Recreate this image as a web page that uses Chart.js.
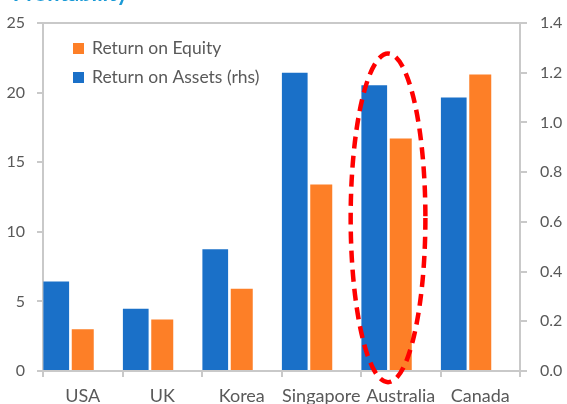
<!DOCTYPE html>
<html>
<head>
<meta charset="utf-8">
<script src="https://cdn.jsdelivr.net/npm/chart.js@4.4.0/dist/chart.umd.min.js"></script>
<style>
html, body { margin: 0; padding: 0; background: #fff; }
</style>
</head>
<body>
<canvas id="chartCanvas" width="567" height="404"></canvas>
<script>
var countries = ['USA', 'UK', 'Korea', 'Singapore', 'Australia', 'Canada'];
var returnOnEquity = [3.0, 3.7, 5.9, 13.4, 16.7, 21.3];
var returnOnAssets = [0.36, 0.25, 0.49, 1.20, 1.15, 1.10];
var leftTicks = [0, 5, 10, 15, 20, 25];
var rightTicks = [0, 0.2, 0.4, 0.6, 0.8, 1.0, 1.2, 1.4];
var highlighted = 'Australia';

var textGray = '#595959';
var axisGray = '#c9c9c9';
var blue = '#1a70c8';
var orange = '#fd7f27';

// legend sits inside the plot, orange first
var legendBox = {
    id: 'legendBox',
    afterDraw: function(chart) {
        var ctx = chart.ctx, a = chart.chartArea;
        ctx.save();
        ctx.font = '17.5px Lato';
        ctx.textBaseline = 'middle';
        [1, 0].forEach(function(i, row) {
            var ds = chart.data.datasets[i];
            var y = a.top + 25 + row * 29;
            ctx.fillStyle = ds.backgroundColor;
            ctx.fillRect(a.left + 30, y - 5, 11, 11);
            ctx.fillStyle = textGray;
            ctx.fillText(ds.label, a.left + 49, y);
        });
        // title, mostly cut off at the top
        ctx.font = 'bold 22px Lato';
        ctx.fillStyle = '#1b9ad6';
        ctx.textAlign = 'right';
        ctx.textBaseline = 'alphabetic';
        ctx.fillText('Profitability', 128, 1);
        ctx.restore();
    }
};

// dashed red ring round the highlighted country
var ring = {
    id: 'ring',
    afterDraw: function(chart) {
        var ctx = chart.ctx, x = chart.scales.x, y = chart.scales.y;
        var i = countries.indexOf(highlighted);
        var step = x.getPixelForValue(1) - x.getPixelForValue(0);
        var cx = x.getPixelForValue(i) - step * 0.16;
        var top = y.getPixelForValue(22.8), bottom = y.getPixelForValue(-0.8);
        ctx.save();
        ctx.strokeStyle = '#ff0000';
        ctx.lineWidth = 4.5;
        ctx.setLineDash([12, 7]);
        ctx.beginPath();
        ctx.ellipse(cx, (top + bottom) / 2, step * 0.47, (bottom - top) / 2, 0, 0, 2 * Math.PI);
        ctx.stroke();
        ctx.restore();
    }
};

var mychart = new Chart(document.getElementById('chartCanvas'), {
    type: 'bar',
    data: {
        labels: countries,
        datasets: [{
            label: 'Return on Assets (rhs)',
            data: returnOnAssets,
            backgroundColor: blue,
            yAxisID: 'y1',
            barPercentage: 0.97
        }, {
            label: 'Return on Equity',
            data: returnOnEquity,
            backgroundColor: orange,
            yAxisID: 'y',
            barPercentage: 0.83
        }, {
            label: '',
            data: countries.map(function() { return null; }),
            yAxisID: 'y'
        }]
    },
    options: {
        responsive: false,
        animation: false,
        layout: { padding: { top: 23, left: 0, right: 0, bottom: 0 } },
        datasets: { bar: { categoryPercentage: 1.0 } },
        plugins: { legend: { display: false }, tooltip: { enabled: false } },
        scales: {
            x: {
                ticks: { color: textGray, font: { family: 'Lato', size: 18 }, padding: 8, maxRotation: 0, autoSkip: false },
                grid: { drawOnChartArea: false, tickLength: 6, tickColor: axisGray, lineWidth: 2 },
                border: { color: axisGray, width: 2 },
                afterFit: function(s) { s.height = 33; }
            },
            y: {
                position: 'left',
                min: 0, max: 25,
                afterBuildTicks: function(s) { s.ticks = leftTicks.map(function(v) { return { value: v }; }); },
                ticks: { color: textGray, font: { family: 'Lato', size: 16 }, padding: 12 },
                grid: {
                    color: function(c) { return c.tick && c.tick.value === 25 ? axisGray : 'rgba(0,0,0,0)'; },
                    tickColor: axisGray, tickLength: 6, lineWidth: 2
                },
                border: { color: axisGray, width: 2 },
                afterFit: function(s) { s.width = 43; }
            },
            y1: {
                position: 'right',
                min: 0, max: 1.4,
                afterBuildTicks: function(s) { s.ticks = rightTicks.map(function(v) { return { value: v }; }); },
                ticks: { color: textGray, font: { family: 'Lato', size: 16 }, padding: 13,
                    callback: function(v) { return v.toFixed(1); } },
                grid: { drawOnChartArea: false, tickColor: axisGray, tickLength: 7, lineWidth: 2 },
                border: { color: axisGray, width: 2 },
                afterFit: function(s) { s.width = 47; }
            }
        }
    },
    plugins: [legendBox, ring]
});
</script>
</body>
</html>
